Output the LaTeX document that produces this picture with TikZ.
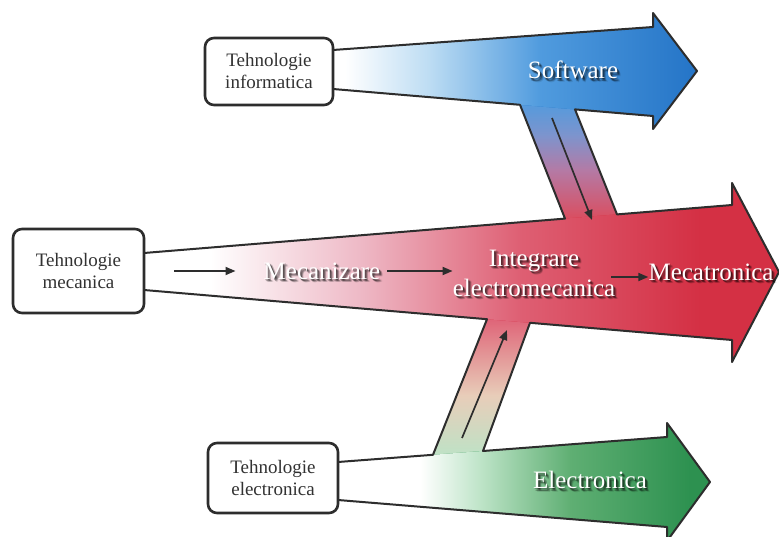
\documentclass[tikz,border=0pt]{standalone}
\usepackage{fontspec}
\setmainfont{Liberation Serif}
\usetikzlibrary{calc,arrows.meta}

\definecolor{inkgray}{RGB}{45,45,45}
\definecolor{boxtext}{RGB}{50,50,50}
\definecolor{blueF}{RGB}{38,118,200}
\definecolor{blueM}{RGB}{80,155,222}
\definecolor{blueL}{RGB}{188,220,243}
\definecolor{redF}{RGB}{212,48,68}
\definecolor{redM}{RGB}{222,95,115}
\definecolor{redL}{RGB}{238,185,198}
\definecolor{greenF}{RGB}{45,145,80}
\definecolor{greenM}{RGB}{95,175,115}
\definecolor{greenL}{RGB}{190,228,200}
\definecolor{slate}{RGB}{125,148,205}
\definecolor{mauve}{RGB}{180,122,165}
\definecolor{redB}{RGB}{218,78,96}
\definecolor{redG}{RGB}{223,102,121}
\definecolor{beige}{RGB}{232,205,185}
\definecolor{greenB}{RGB}{190,226,198}

\tikzset{
  techbox/.style={draw=inkgray, line width=2.6pt, rounded corners=9pt, fill=white,
    align=center, text=boxtext, font=\fontsize{19}{22}\selectfont, inner sep=0pt},
  lbl/.style={text=white, inner sep=0pt, align=center, font=\fontsize{25}{30}\selectfont},
  outline/.style={draw=inkgray, line width=2pt, line join=round},
  flow/.style={draw=inkgray, line width=1.7pt, -{Triangle[length=10pt,width=8pt]}},
}

% white label with a soft dark drop shadow
\newcommand\glowlabel[3]{%
  \foreach \dx/\dy/\op [count=\k] in {1/-1/0.30, 2/-2/0.22, 3/-2.5/0.14, 2.5/-3.2/0.14, 1.5/-2.6/0.18, 3.4/-3.6/0.10}
    \node[lbl, text=black, text opacity=\op, xshift=\dx pt, yshift=\dy pt] (#1-s\k) at (#2) {#3};
  \node[lbl] (#1) at (#2) {#3};
}

\begin{document}
\begin{tikzpicture}[x=1pt,y=-1pt]
\useasboundingbox (0,0) rectangle (779,537);
\fill[white] (0,0) rectangle (779,537);

% outline corners of the three flows
\coordinate (R1) at (144,253);   \coordinate (R2) at (565,218.6);
\coordinate (R3) at (617,214.4); \coordinate (R4) at (732,205);
\coordinate (R5) at (732,183);   \coordinate (R6) at (779,272);
\coordinate (R7) at (732,362);   \coordinate (R8) at (732,340);
\coordinate (R9) at (530,322.8); \coordinate (R10) at (487,319.2);
\coordinate (R11) at (144,290);
\coordinate (B1) at (333,50);    \coordinate (B2) at (653,27);
\coordinate (B3) at (653,13);    \coordinate (B4) at (697,71);
\coordinate (B5) at (653,129);   \coordinate (B6) at (653,116);
\coordinate (B7) at (575,109.4); \coordinate (B8) at (520,104.8);
\coordinate (B9) at (333,89);
\coordinate (G1) at (338,462);   \coordinate (G2) at (433,454.8);
\coordinate (G3) at (483,451);   \coordinate (G4) at (667,437);
\coordinate (G5) at (667,423);   \coordinate (G6) at (710,482);
\coordinate (G7) at (667,541);   \coordinate (G8) at (667,527);
\coordinate (G9) at (338,500);

% branch from software into the main flow
\begin{scope}
  \clip ($(B8)!-0.08!(R2)$) -- ($(B7)!-0.08!(R3)$) -- ($(R3)!-0.08!(B7)$) -- ($(R2)!-0.08!(B8)$) -- cycle;
  \fill[blueM] (480,60) rectangle (660,101);
  \shade[top color=blueM, bottom color=slate] (480,100) rectangle (660,135.5);
  \shade[top color=slate, bottom color=mauve] (480,135) rectangle (660,170.5);
  \shade[top color=mauve, bottom color=redB] (480,170) rectangle (660,218.5);
  \fill[redB] (480,218) rectangle (660,240);
\end{scope}

% branch from electronics into the main flow
\begin{scope}
  \clip ($(G2)!-0.08!(R10)$) -- ($(R10)!-0.08!(G2)$) -- ($(R9)!-0.08!(G3)$) -- ($(G3)!-0.08!(R9)$) -- cycle;
  \fill[redG] (400,290) rectangle (560,321);
  \shade[top color=redG, bottom color=beige] (400,320) rectangle (560,395.5);
  \shade[top color=beige, bottom color=greenB] (400,395) rectangle (560,455.5);
  \fill[greenB] (400,455) rectangle (560,480);
\end{scope}

% software flow
\begin{scope}
  \clip (B1) -- (B2) -- (B3) -- (B4) -- (B5) -- (B6) -- (B9) -- cycle;
  \fill[blueF] (320,0) rectangle (710,140);
  \fill[white] (320,0) rectangle (345.5,140);
  \shade[left color=white, right color=blueL] (345,0) rectangle (430.5,140);
  \shade[left color=blueL, right color=blueM] (430,0) rectangle (540.5,140);
  \shade[left color=blueM, right color=blueF] (540,0) rectangle (690,140);
\end{scope}

% mechanics flow
\begin{scope}
  \clip (R1) -- (R4) -- (R5) -- (R6) -- (R7) -- (R8) -- (R11) -- cycle;
  \fill[redF] (130,170) rectangle (790,380);
  \fill[white] (130,170) rectangle (210.5,380);
  \shade[left color=white, right color=redL] (210,170) rectangle (360.5,380);
  \shade[left color=redL, right color=redM] (360,170) rectangle (520.5,380);
  \shade[left color=redM, right color=redF] (520,170) rectangle (700,380);
\end{scope}

% electronics flow
\begin{scope}
  \clip (G1) -- (G4) -- (G5) -- (G6) -- (G7) -- (G8) -- (G9) -- cycle;
  \fill[greenF] (330,410) rectangle (720,550);
  \fill[white] (330,410) rectangle (420.5,550);
  \shade[left color=white, right color=greenL] (420,410) rectangle (480.5,550);
  \shade[left color=greenL, right color=greenM] (480,410) rectangle (570.5,550);
  \shade[left color=greenM, right color=greenF] (570,410) rectangle (690,550);
\end{scope}

% contour of the whole flow diagram
\draw[outline] (R1) -- (R2) -- (B8) -- (B9);
\draw[outline] (B1) -- (B2) -- (B3) -- (B4) -- (B5) -- (B6) -- (B7) -- (R3) -- (R4) -- (R5)
  -- (R6) -- (R7) -- (R8) -- (R9) -- (G3) -- (G4) -- (G5) -- (G6) -- (G7) -- (G8) -- (G9);
\draw[outline] (G1) -- (G2) -- (R10) -- (R11);

% source technologies
\node[techbox, minimum width=128pt, minimum height=67pt] (info) at (269,71.5) {Tehnologie\\informatica};
\node[techbox, minimum width=131pt, minimum height=84pt] (mech) at (78.5,271) {Tehnologie\\mecanica};
\node[techbox, minimum width=130pt, minimum height=70pt] (elec) at (273,478) {Tehnologie\\electronica};

% labels on the flows
\glowlabel{soft}{573,70}{Software}
\glowlabel{elecl}{590,480}{Electronica}
\glowlabel{mecz}{322,271}{Mecanizare}
\glowlabel{integ}{534,273}{Integrare\\electromecanica}
\glowlabel{mecat}{711,272}{Mecatronica}

% step arrows along the main flow
\draw[flow, shorten <=29pt, shorten >=28pt] (mech) -- (mecz);
\draw[flow, shorten <=7pt] (mecz.east) -- (mecz.east -| integ.west);
\draw[flow, shorten <=-4pt] ([yshift=-4pt]integ.east) -- ([yshift=-4pt]integ.east -| mecat.west);

% arrows inside the branches
\coordinate (sw0) at (552,118);  \coordinate (sw1) at (592,220);
\coordinate (el0) at (462,438);  \coordinate (el1) at (507,330);
\draw[flow] (sw0) -- (sw1);
\draw[flow] (el0) -- (el1);
\end{tikzpicture}
\end{document}
